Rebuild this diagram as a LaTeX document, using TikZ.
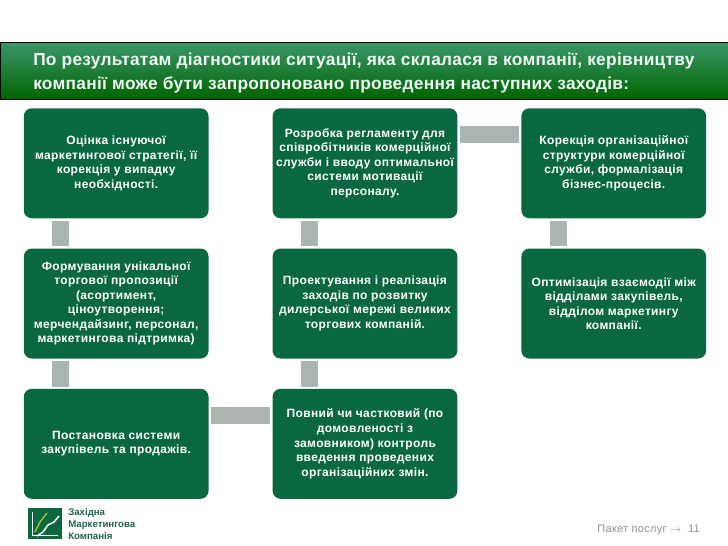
\documentclass[tikz,border=0pt]{standalone}
\usepackage{fontspec}
\setmainfont{Liberation Sans}
\newfontfamily\boxfont[LetterSpace=3]{Liberation Sans}
\newfontfamily\titlefont[LetterSpace=1.6]{Liberation Sans}
\usetikzlibrary{positioning,calc}
\definecolor{boxgreen}{RGB}{10,104,64}
\definecolor{linkgrey}{RGB}{169,181,174}
\definecolor{headtop}{RGB}{58,150,104}
\definecolor{headbot}{RGB}{0,100,0}
\definecolor{logoteal}{RGB}{30,100,80}
\definecolor{logoolive}{RGB}{160,190,60}

\begin{document}
\begin{tikzpicture}[
  x=0.75pt, y=-0.75pt,
  node distance=22.3pt and 47.6pt,
  stage/.style={fill=boxgreen, rounded corners=6pt, minimum width=138.6pt, minimum height=82.5pt, inner sep=0pt, align=center, text=white, font=\boxfont\bfseries\fontsize{9}{10.9}\selectfont},
  lnk/.style={draw=linkgrey, line width=12.75pt, shorten >=1.5pt, shorten <=1.5pt},
  lbl/.style={inner sep=0pt, align=left}
]
  \useasboundingbox (0,0) rectangle (728,546);

  \node[draw=black, line width=0.8pt, top color=headtop, bottom color=headbot, minimum width=546pt, minimum height=42.5pt, inner sep=0pt, anchor=north west] (head) at (0,42) {};
  \node[lbl, anchor=west, text=white!92!headtop, font=\titlefont\bfseries\fontsize{13}{18}\selectfont] (title) at (33,73.5) {По результатам діагностики ситуації, яка склалася в компанії, керівництву\\компанії може бути запропоновано проведення наступних заходів:};

  \node[stage, anchor=north west] (a1) at (23.5,108) {Оцінка існуючої\\маркетингової стратегії, її\\корекція у випадку\\необхідності.};
  \node[stage, below=of a1] (a2) {Формування унікальної\\торгової пропозиції\\(асортимент,\\ціноутворення;\\мерчендайзинг, персонал,\\маркетингова підтримка)};
  \node[stage, below=of a2] (a3) {Постановка системи\\закупівель та продажів.};

  \node[stage, right=of a1] (b1) {Розробка регламенту для\\співробітників комерційної\\служби і вводу оптимальної\\системи мотивації\\персоналу.};
  \node[stage, below=of b1] (b2) {Проектування і реалізація\\заходів по розвитку\\дилерської мережі великих\\торгових компаній.};
  \node[stage, below=of b2] (b3) {Повний чи частковий (по\\домовленості з\\замовником) контроль\\введення проведених\\організаційних змін.};

  \node[stage, right=of b1] (c1) {Корекція організаційної\\структури комерційної\\служби, формалізація\\бізнес-процесів.};
  \node[stage, below=of c1] (c2) {Оптимізація взаємодії між\\відділами закупівель,\\відділом маркетингу\\компанії.};

  % links down the columns
  \draw[lnk] ($(a1.south west)!0.2!(a1.south east)$) -- ($(a2.north west)!0.2!(a2.north east)$);
  \draw[lnk] ($(a2.south west)!0.2!(a2.south east)$) -- ($(a3.north west)!0.2!(a3.north east)$);
  \draw[lnk] ($(b1.south west)!0.2!(b1.south east)$) -- ($(b2.north west)!0.2!(b2.north east)$);
  \draw[lnk] ($(b2.south west)!0.2!(b2.south east)$) -- ($(b3.north west)!0.2!(b3.north east)$);
  \draw[lnk] ($(c1.south west)!0.2!(c1.south east)$) -- ($(c2.north west)!0.2!(c2.north east)$);
  % links across
  \draw[lnk] ($(a3.north east)!0.24!(a3.south east)$) -- ($(b3.north west)!0.24!(b3.south west)$);
  \draw[lnk] ($(b1.north east)!0.24!(b1.south east)$) -- ($(c1.north west)!0.24!(c1.south west)$);

  % logo
  \fill[boxgreen] (28,508) rectangle (62,539);
  \draw[white, line width=0.7pt] (32.7,512) -- (32.7,535) -- (58,535);
  \draw[white, line width=1.1pt] (37,536) -- (43,532) -- (48,525) -- (54,522) -- (59,516);
  \draw[logoolive, line width=1.1pt] (35,532) -- (40,522) -- (47,513);
  \node[lbl, anchor=west, text=logoteal, font=\bfseries\fontsize{7.25}{9}\selectfont] (logotext) at (68,524.5) {Західна\\Маркетингова\\Компанія};

  % page number
  \node[lbl, anchor=east, text=black!45, font=\boxfont\fontsize{8.2}{9}\selectfont] (page) at (700,530) {Пакет послуг $\rightarrow$\ \ 11};
\end{tikzpicture}
\end{document}
